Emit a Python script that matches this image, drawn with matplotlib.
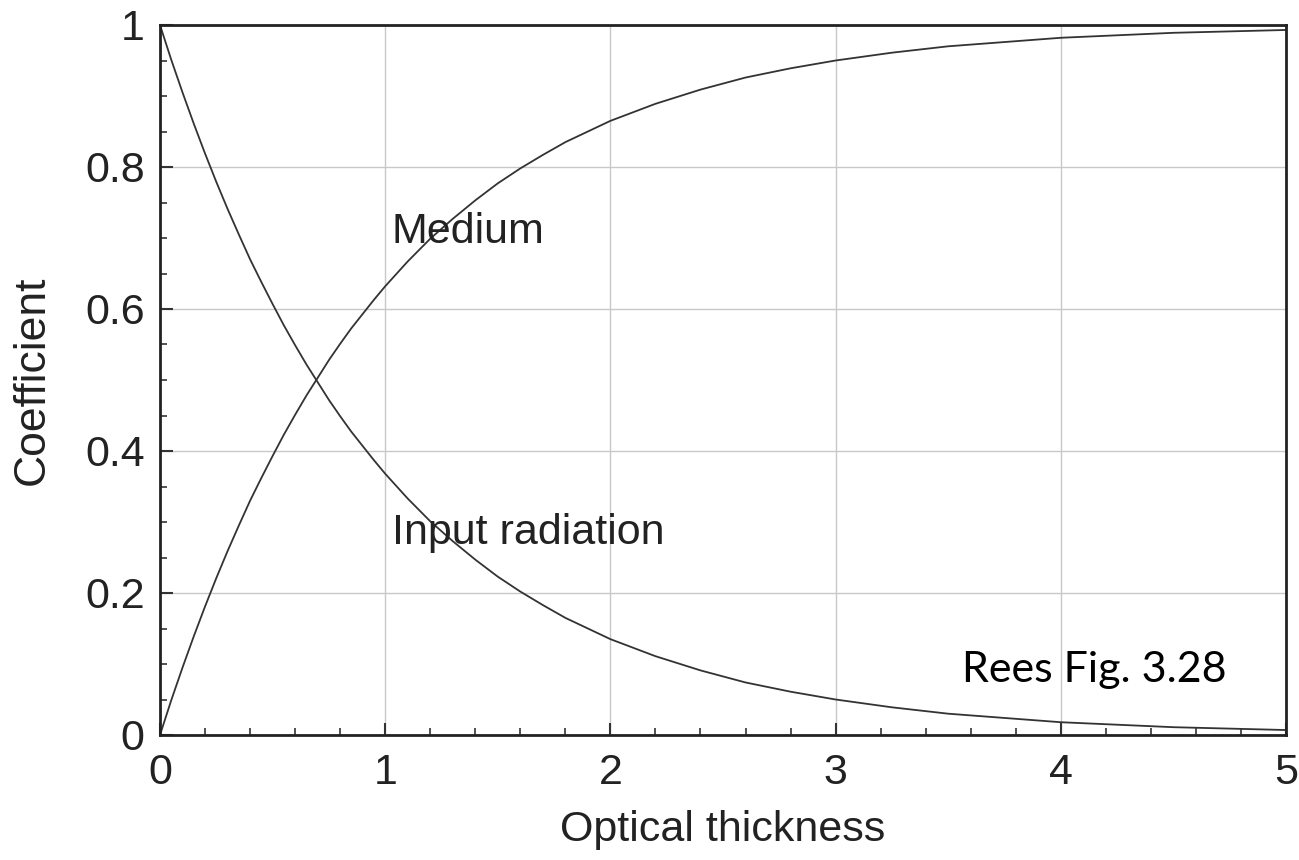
import matplotlib
matplotlib.use("Agg")
import matplotlib.pyplot as plt
from matplotlib.ticker import MultipleLocator, FixedLocator, FixedFormatter

# Optical thickness samples and curve values
thickness = [0.0, 0.05, 0.1, 0.15, 0.2, 0.25, 0.3, 0.35, 0.4, 0.45, 0.5,
             0.55, 0.6, 0.65, 0.7, 0.75, 0.8, 0.85, 0.9, 0.95, 1.0,
             1.1, 1.2, 1.3, 1.4, 1.5, 1.6, 1.7, 1.8, 1.9, 2.0,
             2.2, 2.4, 2.6, 2.8, 3.0, 3.25, 3.5, 3.75, 4.0, 4.5, 5.0]
input_radiation = [1.000, 0.951, 0.905, 0.861, 0.819, 0.779, 0.741, 0.705, 0.670, 0.638, 0.607,
                   0.577, 0.549, 0.522, 0.497, 0.472, 0.449, 0.427, 0.407, 0.387, 0.368,
                   0.333, 0.301, 0.273, 0.247, 0.223, 0.202, 0.183, 0.165, 0.150, 0.135,
                   0.111, 0.091, 0.074, 0.061, 0.050, 0.039, 0.030, 0.024, 0.018, 0.011, 0.007]
medium = [0.000, 0.049, 0.095, 0.139, 0.181, 0.221, 0.259, 0.295, 0.330, 0.362, 0.393,
          0.423, 0.451, 0.478, 0.503, 0.528, 0.551, 0.573, 0.593, 0.613, 0.632,
          0.667, 0.699, 0.727, 0.753, 0.777, 0.798, 0.817, 0.835, 0.850, 0.865,
          0.889, 0.909, 0.926, 0.939, 0.950, 0.961, 0.970, 0.976, 0.982, 0.989, 0.993]

x_ticks = [0, 1, 2, 3, 4, 5]
x_tick_labels = ["0", "1", "2", "3", "4", "5"]
y_ticks = [0, 0.2, 0.4, 0.6, 0.8, 1.0]
y_tick_labels = ["0", "0.2", "0.4", "0.6", "0.8", "1"]

plt.rcParams['font.family'] = ['Liberation Sans', 'DejaVu Sans']

fig = plt.figure(figsize=(12.99, 8.60), dpi=100)
ax = fig.add_axes([160/1299, 1-735/860, (1286-160)/1299, (735-25)/860])

ax.plot(thickness, input_radiation, color='#333333', lw=1.3)
ax.plot(thickness, medium, color='#333333', lw=1.3)

ax.set_xlim(0, 5)
ax.set_ylim(0, 1)
ax.xaxis.set_major_locator(FixedLocator(x_ticks))
ax.xaxis.set_major_formatter(FixedFormatter(x_tick_labels))
ax.yaxis.set_major_locator(FixedLocator(y_ticks))
ax.yaxis.set_major_formatter(FixedFormatter(y_tick_labels))
ax.xaxis.set_minor_locator(MultipleLocator(0.2))
ax.yaxis.set_minor_locator(MultipleLocator(0.05))

ax.grid(True, which='major', color='#c8c8c8', lw=1.0)
ax.set_axisbelow(True)

ax.tick_params(which='both', direction='in', top=False, right=False, color='#333333')
ax.tick_params(which='major', length=9, width=1.5, labelsize=31, labelcolor='#222222')
ax.tick_params(axis='x', which='major', pad=13)
ax.tick_params(axis='y', which='major', pad=11)
ax.tick_params(which='minor', length=5, width=1.2)

for s in ax.spines.values():
    s.set_linewidth(2.0)
    s.set_color('#222222')

ax.set_xlabel('Optical thickness', fontsize=31, color='#222222', labelpad=12)
ax.set_ylabel('Coefficient', fontsize=32, color='#222222', labelpad=23)

ax.text(1.03, 0.708, 'Medium', fontsize=31, color='#222222', va='center', ha='left')
ax.text(1.03, 0.285, 'Input radiation', fontsize=31, color='#222222', va='center', ha='left')
ax.text(3.56, 0.092, 'Rees Fig. 3.28', fontsize=31, family=['Lato', 'DejaVu Sans'],
        color='black', va='center', ha='left')

fig.savefig('out.png', dpi=100)
